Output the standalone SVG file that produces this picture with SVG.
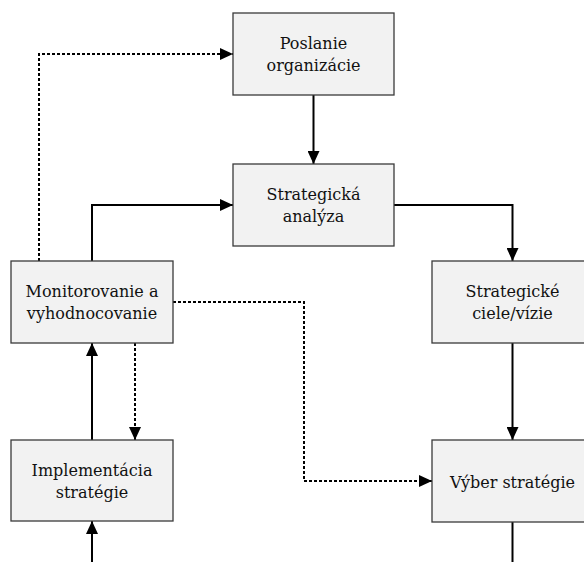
<svg xmlns="http://www.w3.org/2000/svg" width="584" height="562" viewBox="0 0 584 562">
  <style>
    .box { fill: #f2f2f2; stroke: #3a3a3a; stroke-width: 1.3; }
    .lbl { font-family: "DejaVu Serif", "Liberation Serif", serif; font-size: 16px; fill: #111; text-anchor: middle; }
    .solid { fill: none; stroke: #000; stroke-width: 2; }
    .dot { fill: none; stroke: #000; stroke-width: 2; stroke-dasharray: 3 2; }
  </style>
  <defs>
    <marker id="arr" markerUnits="userSpaceOnUse" markerWidth="14" markerHeight="12" refX="13" refY="6" orient="auto">
      <path d="M0,0 L13,6 L0,12 Z" fill="#000"/>
    </marker>
  </defs>
  <rect width="584" height="562" fill="#fff"/>

  <g id="connectors">
    <path class="solid" d="M313.5 95 V164" marker-end="url(#arr)"/>
    <path class="solid" d="M394 205 H512.5 V261" marker-end="url(#arr)"/>
    <path class="solid" d="M512.5 343 V440" marker-end="url(#arr)"/>
    <path class="solid" d="M512.5 522 V562"/>
    <path class="solid" d="M92 261 V205 H233" marker-end="url(#arr)"/>
    <path class="dot" d="M39 261 V54 H233" marker-end="url(#arr)"/>
    <path class="dot" d="M173 302 H304 V481 H432" marker-end="url(#arr)"/>
    <path class="dot" d="M135 343 V440" marker-end="url(#arr)"/>
    <path class="solid" d="M92 440 V343" marker-end="url(#arr)"/>
    <path class="solid" d="M92 562 V521" marker-end="url(#arr)"/>
  </g>

  <g id="poslanie">
    <rect class="box" x="233" y="13" width="161" height="82"/>
    <text class="lbl" x="313.5" y="49">Poslanie</text>
    <text class="lbl" x="313.5" y="71">organizácie</text>
  </g>
  <g id="analyza">
    <rect class="box" x="233" y="164" width="161" height="82"/>
    <text class="lbl" x="313.5" y="200">Strategická</text>
    <text class="lbl" x="313.5" y="222">analýza</text>
  </g>
  <g id="monitorovanie">
    <rect class="box" x="11" y="261" width="162" height="82"/>
    <text class="lbl" x="92" y="297">Monitorovanie a</text>
    <text class="lbl" x="92" y="319">vyhodnocovanie</text>
  </g>
  <g id="ciele">
    <rect class="box" x="432" y="261" width="161" height="82"/>
    <text class="lbl" x="512.5" y="297">Strategické</text>
    <text class="lbl" x="512.5" y="319">ciele/vízie</text>
  </g>
  <g id="implementacia">
    <rect class="box" x="11" y="440" width="162" height="81"/>
    <text class="lbl" x="92" y="475.5">Implementácia</text>
    <text class="lbl" x="92" y="497.5">stratégie</text>
  </g>
  <g id="vyber">
    <rect class="box" x="432" y="440" width="161" height="82"/>
    <text class="lbl" x="512.5" y="487.5">Výber stratégie</text>
  </g>
</svg>
